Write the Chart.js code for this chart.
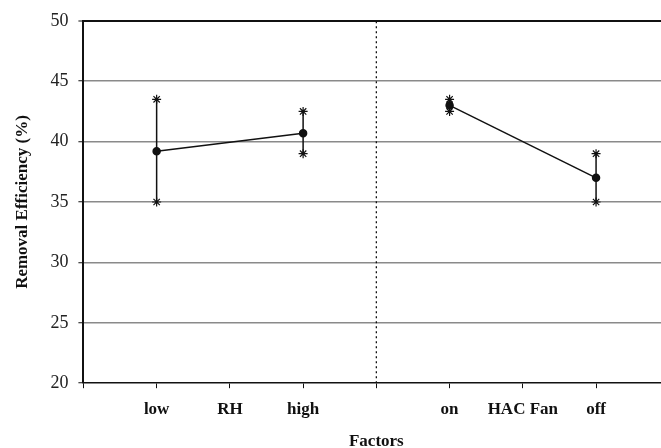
<!DOCTYPE html>
<html>
<head>
<meta charset="utf-8">
<script src="https://cdn.jsdelivr.net/npm/chart.js@4"></script>
<style>
  html, body { margin: 0; padding: 0; background: #fff; overflow: hidden; }
  #wrap { width: 661px; height: 448px; overflow: hidden; }
</style>
</head>
<body>
<div id="wrap"><canvas id="chart" width="675" height="448"></canvas></div>
<script>
// positions on the factor axis (1..7) and their labels
const tickLabels = { 1: 'low', 2: 'RH', 3: 'high', 5: 'on', 6: 'HAC Fan', 7: 'off' };
const rhX = [1, 3];
const rhMean = [39.2, 40.7];
const rhLow = [35, 39];
const rhHigh = [43.5, 42.5];
const fanX = [5, 7];
const fanMean = [43, 37];
const fanLow = [42.5, 35];
const fanHigh = [43.5, 39];
const dividerX = 4;
const yTicks = [20, 25, 30, 35, 40, 45, 50];

const serif = '"Liberation Serif", "DejaVu Serif", serif';

function meanSet(xs, ys) {
    return {
        data: xs.map((x, i) => ({ x: x, y: ys[i] })),
        borderColor: '#111',
        backgroundColor: '#111',
        borderWidth: 1.5,
        pointRadius: 3.5,
        pointStyle: 'circle',
        showLine: true,
        order: 0
    };
}

function errSets(xs, lo, hi) {
    return xs.map((x, i) => ({
        data: [{ x: x, y: lo[i] }, { x: x, y: hi[i] }],
        borderColor: '#111',
        backgroundColor: '#111',
        borderWidth: 1.5,
        pointRadius: 4.5,
        pointBorderWidth: 1.2,
        pointStyle: 'star',
        showLine: true,
        order: 1
    }));
}

const datasets = [
    meanSet(rhX, rhMean),
    meanSet(fanX, fanMean),
    ...errSets(rhX, rhLow, rhHigh),
    ...errSets(fanX, fanLow, fanHigh),
    {
        data: [{ x: dividerX, y: yTicks[0] }, { x: dividerX, y: yTicks[yTicks.length - 1] }],
        borderColor: '#111',
        borderWidth: 1.3,
        borderDash: [2, 3],
        pointRadius: 0,
        showLine: true,
        order: 2
    }
];

const ctx = document.getElementById('chart').getContext('2d');
new Chart(ctx, {
    type: 'scatter',
    data: { datasets: datasets },
    options: {
        responsive: false,
        animation: false,
        layout: { padding: { top: 20, right: 0, left: 12, bottom: -4 } },
        plugins: {
            legend: { display: false },
            tooltip: { enabled: false }
        },
        scales: {
            x: {
                type: 'linear',
                min: 0,
                max: 8,
                afterBuildTicks: function(scale) {
                    scale.ticks = [0, 1, 2, 3, 4, 5, 6, 7].map(v => ({ value: v }));
                },
                grid: {
                    drawOnChartArea: false,
                    drawTicks: true,
                    tickLength: 5,
                    color: '#111',
                    lineWidth: 1
                },
                border: { color: '#111', width: 1.5 },
                ticks: {
                    autoSkip: false,
                    maxRotation: 0,
                    padding: 11,
                    color: '#111',
                    font: { family: serif, size: 17, weight: 'bold' },
                    callback: function(v) { return tickLabels[v] || ''; }
                },
                title: {
                    display: true,
                    text: 'Factors',
                    color: '#111',
                    padding: { top: 1, bottom: 0 },
                    font: { family: serif, size: 17, weight: 'bold' }
                }
            },
            y: {
                min: 20,
                max: 50,
                afterBuildTicks: function(scale) {
                    scale.ticks = yTicks.map(v => ({ value: v }));
                },
                grid: {
                    color: function(c) {
                        if (c.tick && c.tick.value === 50) return '#111';
                        if (c.tick && c.tick.value === 20) return 'rgba(0,0,0,0)';
                        return '#8a8a8a';
                    },
                    lineWidth: function(c) {
                        return (c.tick && c.tick.value === 50) ? 2 : 1.5;
                    },
                    tickColor: '#111',
                    tickWidth: 1,
                    tickLength: 5
                },
                border: { color: '#111', width: 2 },
                ticks: {
                    padding: 10,
                    color: '#222',
                    font: { family: serif, size: 18 }
                },
                title: {
                    display: true,
                    text: 'Removal Efficiency (%)',
                    color: '#111',
                    padding: { top: 0, bottom: 8 },
                    font: { family: serif, size: 17, weight: 'bold' }
                }
            }
        }
    }
});
</script>
</body>
</html>
